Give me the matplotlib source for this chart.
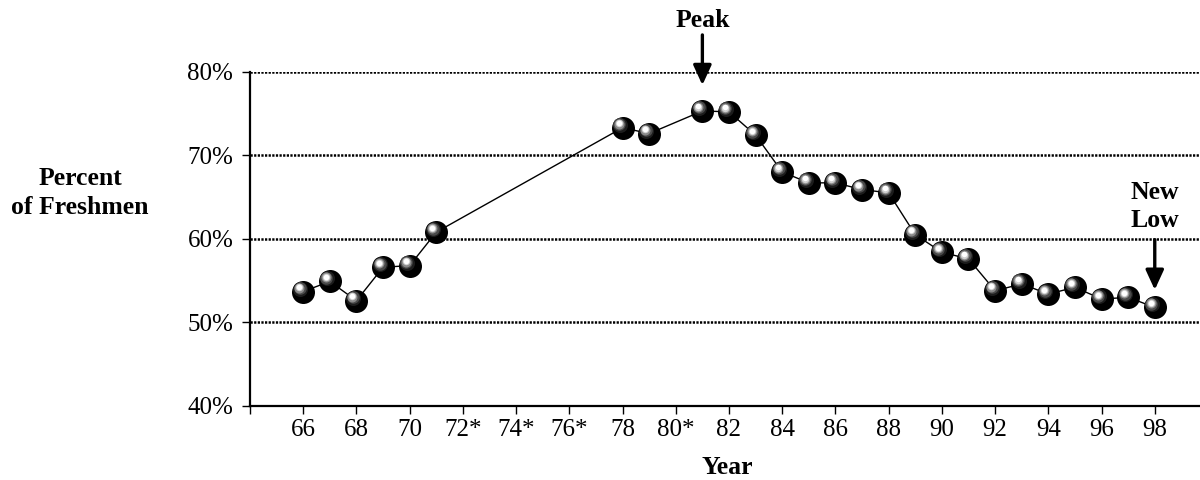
import matplotlib
matplotlib.use("Agg")
import matplotlib.pyplot as plt
from matplotlib.transforms import ScaledTranslation

years = [66, 67, 68, 69, 70, 71, 78, 79, 81, 82, 83, 84, 85, 86, 87, 88,
         89, 90, 91, 92, 93, 94, 95, 96, 97, 98]
percent = [53.7, 54.9, 52.6, 56.6, 56.8, 60.8, 73.3, 72.6, 75.3, 75.2, 72.4,
           68.0, 66.7, 66.7, 65.9, 65.5, 60.5, 58.4, 57.6, 53.8, 54.6, 53.4,
           54.2, 52.8, 53.0, 51.8]
xtick_pos = list(range(64, 100, 2))
xtick_labels = ['', '66', '68', '70', '72*', '74*', '76*', '78', '80*', '82',
                '84', '86', '88', '90', '92', '94', '96', '98']
ytick_pos = [40, 50, 60, 70, 80]
ytick_labels = ['40%', '50%', '60%', '70%', '80%']

plt.rcParams['font.family'] = ['Liberation Serif', 'DejaVu Serif']

fig = plt.figure(figsize=(12, 4.8), dpi=100)
ax = fig.add_axes([250/1200, 1-406/480, 950/1200, (406-71.7)/480])
ax.set_xlim(64, 99.7)
ax.set_ylim(40, 80)

for y in [50, 60, 70, 80]:
    ax.axhline(y, color='black', lw=1.8, ls=(0, (0.9, 0.55)), zorder=1)

ax.plot(years, percent, color='black', lw=1.0, zorder=2)

# sphere-like markers (diameter px, colour, offset px)
px = 1/100
layers = [(23, '#000000', 0, 0),
          (15, '#1c1c1c', -3, 3),
          (12.5, '#4a4a4a', -3.5, 3.5),
          (10, '#8a8a8a', -4, 4),
          (7.5, '#d0d0d0', -4, 4.3),
          (5.5, '#ffffff', -4, 4.5)]
for d, col, dx, dy in layers:
    tr = ax.transData + ScaledTranslation(dx*px, dy*px, fig.dpi_scale_trans)
    ax.plot(years, percent, 'o', ms=d*0.72, color=col, mec='none',
            transform=tr, zorder=3, clip_on=False)

for s in ['top', 'right']:
    ax.spines[s].set_visible(False)
for s in ['left', 'bottom']:
    ax.spines[s].set_linewidth(1.6)

ax.set_xticks(xtick_pos)
ax.set_xticklabels(xtick_labels, fontsize=18)
ax.set_yticks(ytick_pos)
ax.set_yticklabels(ytick_labels, fontsize=18)
ax.tick_params(axis='x', direction='out', length=6, width=1.0, pad=3)
ax.tick_params(axis='y', direction='out', length=6, width=1.0, pad=6)

# annotations
arrow = dict(arrowstyle='-|>,head_length=1.2,head_width=0.55',
             color='black', lw=2.4, shrinkA=0, shrinkB=0)
ax.annotate('', xy=(81, 78.4), xytext=(81, 84.4), annotation_clip=False,
            arrowprops=arrow)
ax.text(81, 86.1, 'Peak', ha='center', va='center', fontsize=18.5,
        fontweight='bold', clip_on=False)
ax.annotate('', xy=(98, 53.9), xytext=(98, 59.9), annotation_clip=False,
            arrowprops=arrow)
ax.text(98, 63.9, 'New\nLow', ha='center', va='center', fontsize=18.5,
        fontweight='bold', linespacing=1.25)

fig.text(80/1200, 1-193/480, 'Percent\nof Freshmen', ha='center', va='center',
         fontsize=18.5, fontweight='bold', linespacing=1.38)
fig.text(727/1200, 1-467/480, 'Year', ha='center', va='center',
         fontsize=18.5, fontweight='bold')

fig.savefig('out.png', dpi=100)
